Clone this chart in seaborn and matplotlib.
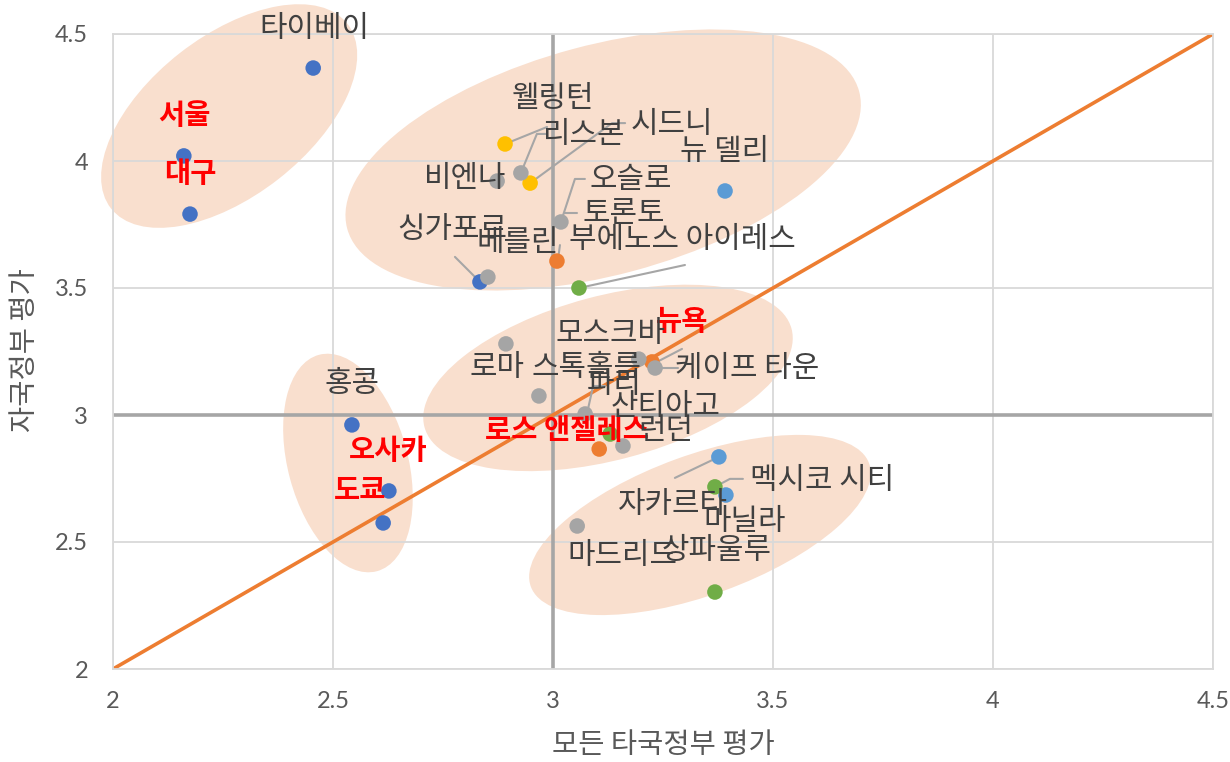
import numpy as np
import pandas as pd
import matplotlib
matplotlib.use("Agg")
import matplotlib.pyplot as plt
from matplotlib.patches import Ellipse
from matplotlib.transforms import IdentityTransform
import seaborn as sns

# ---- data ----
cities = ['타이베이', '서울', '대구', '싱가포르', '홍콩', '오사카', '도쿄',
          '뉴 델리', '자카르타', '마닐라',
          '웰링턴', '시드니',
          '토론토', '뉴욕', '로스 앤젤레스',
          '부에노스 아이레스', '산티아고', '멕시코 시티', '상파울루',
          '비엔나', '리스본', '오슬로', '베를린', '로마', '스톡홀름',
          '파리', '모스크바', '케이프 타운', '런던', '마드리드']
other_gov = [2.455, 2.161, 2.175, 2.834, 2.543, 2.627, 2.614,
             3.391, 3.377, 3.393,
             2.891, 2.948,
             3.009, 3.225, 3.105,
             3.059, 3.130, 3.368, 3.368,
             2.873, 2.927, 3.018, 2.852, 2.893, 2.968,
             3.073, 3.195, 3.232, 3.159, 3.055]
own_gov = [4.366, 4.020, 3.791, 3.524, 2.961, 2.701, 2.575,
           3.882, 2.835, 2.685,
           4.067, 3.913,
           3.606, 3.209, 2.866,
           3.500, 2.925, 2.717, 2.303,
           3.921, 3.953, 3.760, 3.543, 3.280, 3.075,
           3.004, 3.220, 3.185, 2.878, 2.563]
region = ['동아시아'] * 7 + ['남·동남아시아'] * 3 + ['오세아니아'] * 2 + \
         ['북미'] * 3 + ['중남미'] * 4 + ['유럽·아프리카'] * 11
highlight = ['서울', '대구', '뉴욕', '로스 앤젤레스', '오사카', '도쿄']
diag = [2, 4.5]
ticks = [2, 2.5, 3, 3.5, 4, 4.5]
tick_labels = ['2', '2.5', '3', '3.5', '4', '4.5']

df = pd.DataFrame({'city': cities, 'x': other_gov, 'y': own_gov, 'region': region})

palette = {'동아시아': '#4472C4', '남·동남아시아': '#5B9BD5', '오세아니아': '#FFC000',
           '북미': '#ED7D31', '중남미': '#70AD47', '유럽·아프리카': '#A5A5A5'}

# label offsets (pixels, relative to the dot)
label_off = {
    '타이베이': (1, 40), '서울': (1, 40), '대구': (0, 40), '싱가포르': (-28, 52),
    '홍콩': (0, 41), '오사카': (-1, 40), '도쿄': (-23, 32),
    '뉴 델리': (0, 39), '자카르타': (-46, -48), '마닐라': (19, -26),
    '웰링턴': (48, 45), '시드니': (142, 59),
    '토론토': (67, 48), '뉴욕': (30, 40), '로스 앤젤레스': (-32, 18),
    '부에노스 아이레스': (103, 48), '산티아고': (55, 28), '멕시코 시티': (107, 6),
    '상파울루': (2, 42),
    '비엔나': (-32, 3), '리스본': (62, 38), '오슬로': (70, 42), '베를린': (30, 35),
    '로마': (-9, -24), '스톡홀름': (48, 28), '파리': (29, 29), '모스크바': (-28, 26),
    '케이프 타운': (92, 0), '런던': (43, 15), '마드리드': (45, -30),
}
# leader lines (pixel offsets from the dot)
leaders = [
    ('웰링턴', [(42, 17), (0, 0)]),
    ('리스본', [(26, 39), (16, 39), (0, 0)]),
    ('시드니', [(95, 60), (82, 60), (0, 0)]),
    ('오슬로', [(24, 43), (14, 43), (0, 0)]),
    ('오슬로', [(16, 9), (3, 9)]),
    ('토론토', [(3, 16), (1, 1)]),
    ('싱가포르', [(-25, 25), (0, 0)]),
    ('부에노스 아이레스', [(106, 23), (0, 0)]),
    ('케이프 타운', [(23, 0), (0, 0)]),
    ('뉴욕', [(30, 13), (5, 0)]),
    ('파리', [(20, 28), (8, 28), (2, 1)]),
    ('자카르타', [(-44, -21), (0, 0)]),
    ('멕시코 시티', [(28, 8), (15, 8), (0, 0)]),
]
# group ellipses: centre in data units, semi-axes in pixels, angle
ellipses = [((2.264, 4.177), 150, 80, 38),
            ((3.114, 4.004), 265, 115, 15),
            ((3.125, 3.146), 190, 82, 15),
            ((2.534, 2.811), 112, 60, -75),
            ((3.334, 2.567), 180, 70, 20)]

# ---- plot ----
sns.set_theme(style="white")
plt.rcParams['font.family'] = ['Noto Sans CJK KR', 'DejaVu Sans']

fig = plt.figure(figsize=(12.3, 7.62), dpi=100)
ax = fig.add_axes([113 / 1230, 1 - 669 / 762, 1100 / 1230, 635 / 762])
ax.set_xlim(2, 4.5)
ax.set_ylim(2, 4.5)
ax.set_xticks(ticks)
ax.set_yticks(ticks)
ax.set_xticklabels(tick_labels, family='Lato', fontsize=17, color='#595959')
ax.set_yticklabels(tick_labels, family='Lato', fontsize=17, color='#595959')
ax.tick_params(axis='x', length=0, pad=16)
ax.tick_params(axis='y', length=0, pad=18)
ax.grid(True, color='#D9D9D9', lw=1.3)
ax.set_axisbelow(True)
for sp in ax.spines.values():
    sp.set_color('#D9D9D9')
    sp.set_linewidth(1.3)

# reference lines at 3
ax.axvline(3, color='#A6A6A6', lw=2.6, zorder=1)
ax.axhline(3, color='#A6A6A6', lw=2.6, zorder=1)

# ellipses in pixel space
for (cx, cy), a, b, ang in ellipses:
    px, py = ax.transData.transform((cx, cy))
    e = Ellipse((px, py), 2 * a, 2 * b, angle=ang, transform=IdentityTransform(),
                facecolor='#F9DFCE', edgecolor='none', zorder=0.2, clip_on=False)
    ax.add_artist(e)

# diagonal y = x
ax.plot(diag, diag, color='#ED7D31', lw=2.6, zorder=1.5)

sns.scatterplot(data=df, x='x', y='y', hue='region', palette=palette, s=125,
                linewidth=0, legend=False, ax=ax, zorder=3)

pos = dict(zip(df['city'], zip(df['x'], df['y'])))

for name, pts in leaders:
    px, py = ax.transData.transform(pos[name])
    xs = [px + dx for dx, dy in pts]
    ys = [py + dy for dx, dy in pts]
    ax.add_line(plt.Line2D(xs, ys, transform=IdentityTransform(), color='#A6A6A6',
                           lw=1.5, zorder=2.5))

for name in cities:
    dx, dy = label_off[name]
    red = name in highlight
    ax.annotate(name, pos[name], xytext=(dx, dy), textcoords='offset pixels',
                ha='center', va='center', fontsize=20.5 if red else 21.5,
                color='#FF0000' if red else '#404040',
                fontweight='bold' if red else 'normal', zorder=4)

ax.set_xlabel('모든 타국정부 평가', fontsize=20.5, color='#595959')
ax.set_ylabel('자국정부 평가', fontsize=20.5, color='#595959')
ax.xaxis.set_label_coords(0.5, -0.12)
ax.yaxis.set_label_coords(-0.08, 0.502)
ax.xaxis.label.set_va('center')
ax.yaxis.label.set_va('center')

fig.savefig('out.png', dpi=100)
